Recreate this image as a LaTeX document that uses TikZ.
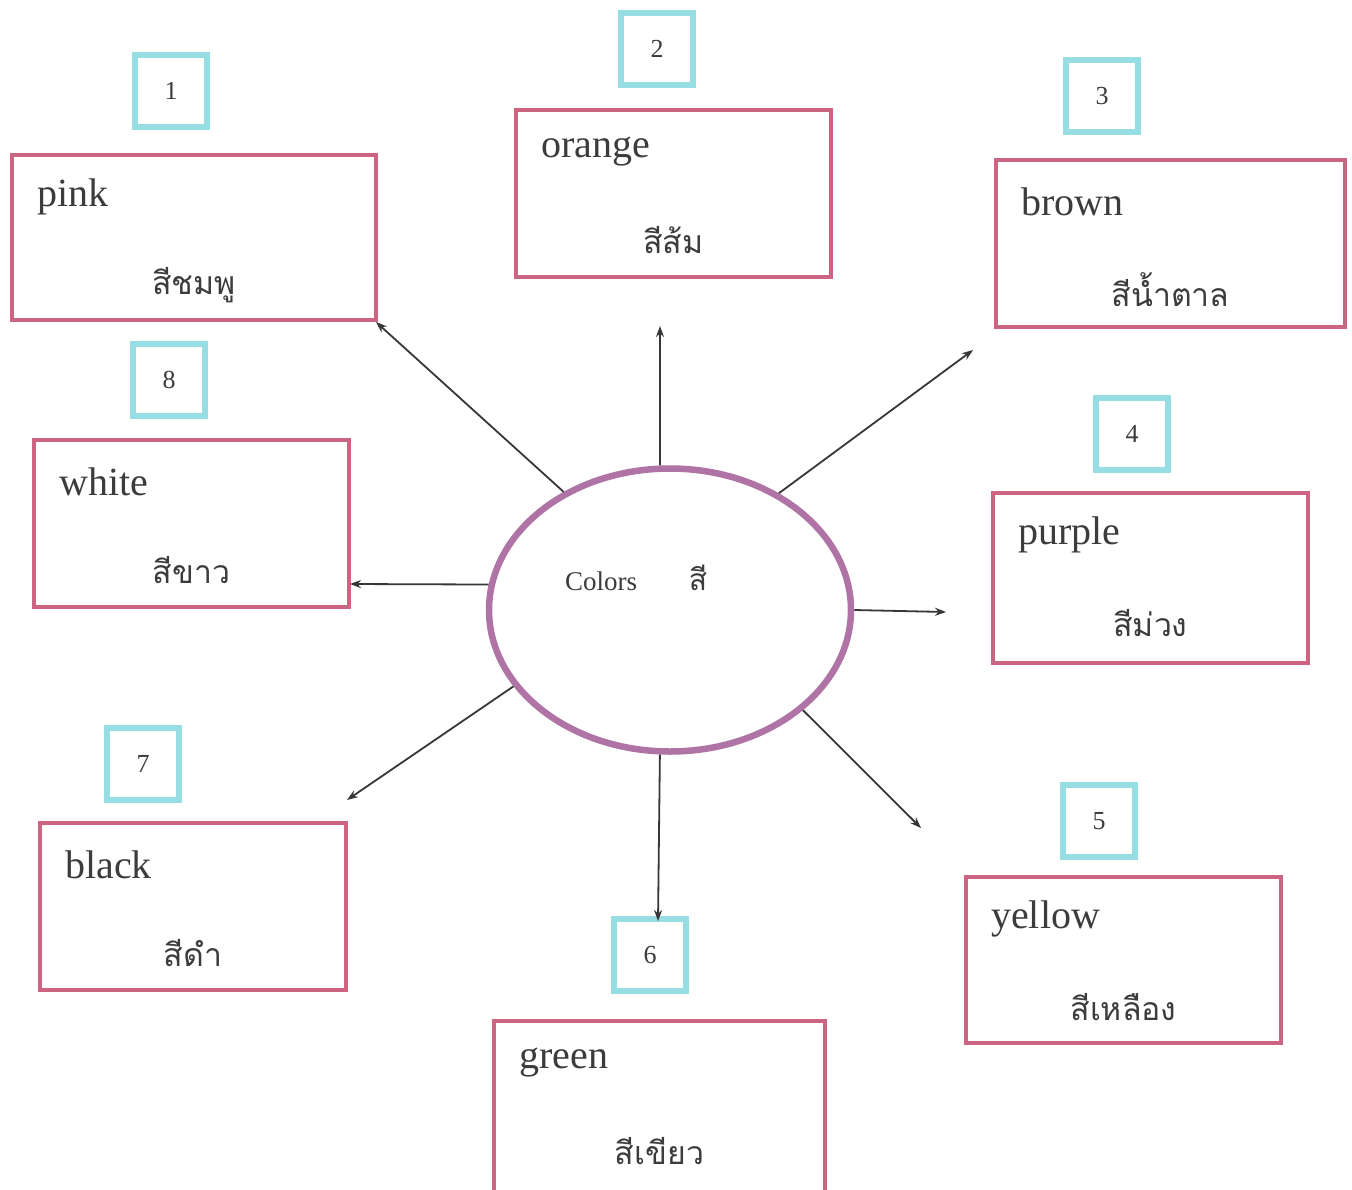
\documentclass[tikz,border=0pt]{standalone}
\usepackage{fontspec}
\setmainfont{Liberation Serif}
\newfontfamily\thaifont[Script=Thai]{Loma}
\usetikzlibrary{shapes.geometric,arrows.meta}
\definecolor{boxred}{RGB}{204,100,130}
\definecolor{numcyan}{RGB}{150,222,228}
\definecolor{ellpurple}{RGB}{175,115,165}
\definecolor{txt}{RGB}{60,60,60}
\tikzset{
  colorbox/.style={draw=boxred, line width=4.5pt, fill=white, inner sep=0pt},
  numbox/.style={draw=numcyan, line width=6pt, fill=white, minimum width=72pt, minimum height=72pt, inner sep=0pt, text=txt, font=\fontsize{26}{30}\selectfont},
  engl/.style={anchor=west, text=txt, inner sep=0pt, font=\fontsize{40}{46}\selectfont},
  thai/.style={text=txt, inner sep=0pt, font=\thaifont\fontsize{32}{38}\selectfont},
  arr/.style={draw={rgb,255:red,55;green,55;blue,55}, line width=1.8pt, -{Stealth[length=11pt,width=8pt]}}
}
\newcommand{\colbox}[7]{%
  \pgfmathsetmacro\bxw{#4-#2}%
  \pgfmathsetmacro\bxh{#5-#3}%
  \pgfmathsetmacro\bxcx{(#2+#4)/2}%
  \pgfmathsetmacro\bxcy{(#3+#5)/2}%
  \node[colorbox, minimum width=\bxw pt, minimum height=\bxh pt] (#1) at (\bxcx,\bxcy) {};
  \node[engl] (#1en) at ({#2+25},{#3+42}) {#6};
  \node[thai] (#1th) at (\bxcx,{#3+130}) {#7};
}
\begin{document}
\begin{tikzpicture}[x=1pt,y=-1pt]
\useasboundingbox (0,0) rectangle (1352,1189);
\fill[white] (0,0) rectangle (1352,1189);

\colbox{pink}{12}{155}{376}{320}{pink}{สีชมพู}
\colbox{orange}{516}{110}{831}{277}{orange}{สีส้ม}
\colbox{brown}{996}{160}{1345}{327}{brown}{สีน้ำตาล}
\colbox{white}{34}{440}{349}{607}{white}{สีขาว}
\colbox{purple}{993}{493}{1308}{663}{purple}{สีม่วง}
\colbox{black}{40}{823}{346}{990}{black}{สีดำ}
\colbox{green}{494}{1021}{825}{1192}{green}{สีเขียว}
\colbox{yellow}{966}{877}{1281}{1043}{yellow}{สีเหลือง}

\node[numbox] (n1) at (171,91) {1};
\node[numbox] (n2) at (657,49) {2};
\node[numbox] (n3) at (1102,96) {3};
\node[numbox] (n8) at (169,380) {8};
\node[numbox] (n4) at (1132,434) {4};
\node[numbox] (n7) at (143,764) {7};
\node[numbox] (n6) at (650,955) {6};
\node[numbox] (n5) at (1099,821) {5};

\node[draw=ellpurple, line width=6.5pt, ellipse, minimum width=362pt, minimum height=283pt, fill=white] (c) at (670,610) {};
\node[text=txt, inner sep=0pt, font=\fontsize{27}{30}\selectfont] (ctext) at (601,581) {Colors};
\node[text=txt, inner sep=0pt, font=\thaifont\fontsize{30}{34}\selectfont] (cthai) at (698,578) {สี};

\coordinate (epink) at (376,322);
\coordinate (eorange) at (660,326);
\coordinate (ebrown) at (973,350);
\coordinate (ewhite) at (350,584);
\coordinate (epurple) at (946,612);
\coordinate (eyellow) at (921,828);
\coordinate (egreen) at (658,921);
\coordinate (eblack) at (347,800);

\draw[arr] (c.132.5) -- (epink);
\draw[arr] (c.94) -- (eorange);
\draw[arr] (c.47.5) -- (ebrown);
\draw[arr] (c.172) -- (ewhite);
\draw[arr] (c.0) -- (epurple);
\draw[arr] (c.-37) -- (eyellow);
\draw[arr] (c.-94.7) -- (egreen);
\draw[arr] (c.-154) -- (eblack);
\end{tikzpicture}
\end{document}
